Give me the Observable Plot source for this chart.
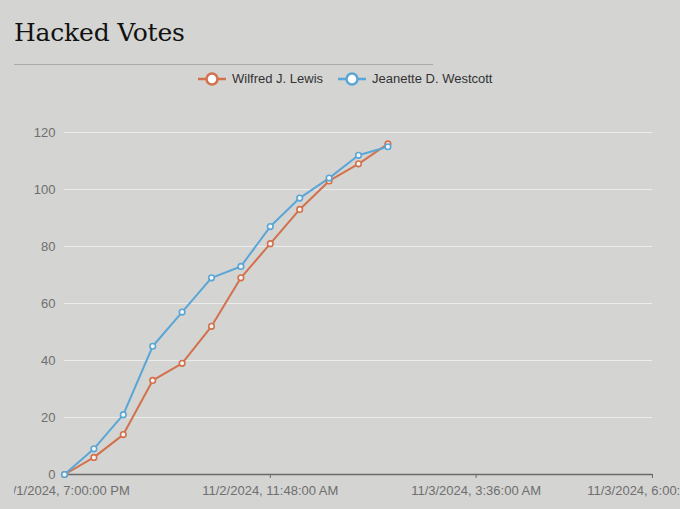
<!DOCTYPE html>
<html>
<head>
<meta charset="utf-8">
<script src="https://cdn.jsdelivr.net/npm/d3@7"></script>
<script src="https://cdn.jsdelivr.net/npm/@observablehq/plot@0.6"></script>
<style>
  html, body { margin: 0; padding: 0; background: #d4d4d2; }
  body { width: 680px; height: 509px; position: relative; overflow: hidden; font-family: "Liberation Sans", Arial, sans-serif; }
  #title { position: absolute; left: 14px; top: 16px; font-family: "DejaVu Serif", serif; font-size: 25px; line-height: 34px; color: #111; margin: 0; font-weight: normal; letter-spacing: -0.2px; }
  #rule { position: absolute; left: 14px; top: 64px; width: 419px; height: 0; border-top: 1.5px solid #a9a9a7; }
  #legend { position: absolute; left: 198px; top: 71px; display: flex; align-items: center; font-size: 13px; color: #333; }
  .item { display: flex; align-items: center; margin-right: 15px; }
  .item svg { margin-right: 6px; }
  #chart { position: absolute; left: 14px; top: 100px; }
</style>
</head>
<body>
<h1 id="title">Hacked Votes</h1>
<div id="rule"></div>
<div id="legend"></div>
<div id="chart"></div>
<script>
const times = [
  "2024-11-01T19:00:00-04:00", "2024-11-01T21:24:00-04:00", "2024-11-01T23:48:00-04:00",
  "2024-11-02T02:12:00-04:00", "2024-11-02T04:36:00-04:00", "2024-11-02T07:00:00-04:00",
  "2024-11-02T09:24:00-04:00", "2024-11-02T11:48:00-04:00", "2024-11-02T14:12:00-04:00",
  "2024-11-02T16:36:00-04:00", "2024-11-02T19:00:00-04:00", "2024-11-02T21:24:00-04:00"
];
const lewis    = [0, 6, 14, 33, 39, 52, 69, 81, 93, 103, 109, 116];
const westcott = [0, 9, 21, 45, 57, 69, 73, 87, 97, 104, 112, 115];
const seriesNames = ["Wilfred J. Lewis", "Jeanette D. Westcott"];
const seriesColors = ["#d2714c", "#5aa6d6"];
const xDomain = ["2024-11-01T19:00:00-04:00", "2024-11-03T18:00:00-05:00"];
const xTicks = ["2024-11-01T19:00:00-04:00", "2024-11-02T11:48:00-04:00", "2024-11-03T03:36:00-05:00", "2024-11-03T18:00:00-05:00"];
const xTickLabels = ["11/1/2024, 7:00:00 PM", "11/2/2024, 11:48:00 AM", "11/3/2024, 3:36:00 AM", "11/3/2024, 6:00:00 PM"];
const yTicks = [0, 20, 40, 60, 80, 100, 120];

const data = [];
times.forEach((t, i) => {
  data.push({time: new Date(t), votes: lewis[i], name: seriesNames[0]});
  data.push({time: new Date(t), votes: westcott[i], name: seriesNames[1]});
});
const tickDates = xTicks.map(t => new Date(t));
const labelMap = new Map(tickDates.map((d, i) => [+d, xTickLabels[i]]));

// legend
const legend = document.getElementById("legend");
seriesNames.forEach((n, i) => {
  const item = document.createElement("div");
  item.className = "item";
  item.innerHTML = `<svg width="28" height="14"><line x1="0" x2="28" y1="7" y2="7" stroke="${seriesColors[i]}" stroke-width="2.5"/><circle cx="14" cy="7" r="5.5" fill="#fff" stroke="${seriesColors[i]}" stroke-width="2.5"/></svg><span>${n}</span>`;
  legend.appendChild(item);
});

const chart = Plot.plot({
  width: 666,
  height: 409,
  marginLeft: 50,
  marginRight: 28,
  marginTop: 32,
  marginBottom: 35,
  style: {background: "transparent", fontFamily: "Liberation Sans, Arial, sans-serif", fontSize: "13px"},
  x: {type: "time", domain: xDomain.map(t => new Date(t))},
  y: {domain: [0, 120]},
  color: {domain: seriesNames, range: seriesColors},
  marks: [
    Plot.gridY(yTicks.filter(d => d > 0), {stroke: "#ececea", strokeOpacity: 1, strokeWidth: 1}),
    Plot.axisY(yTicks, {tickSize: 0, tickPadding: 9, fill: "#6f6f6f", label: null}),
    Plot.ruleY([0], {stroke: "#6a6a6a", strokeWidth: 1.5}),
    Plot.axisX(tickDates, {tickSize: 4, tickPadding: 7, stroke: "#6a6a6a", fill: "#6f6f6f", label: null, tickFormat: d => labelMap.get(+d)}),
    Plot.line(data, {x: "time", y: "votes", z: "name", stroke: "name", strokeWidth: 2}),
    Plot.dot(data, {x: "time", y: "votes", stroke: "name", fill: "#f4f4f4", r: 2.8, strokeWidth: 1.6})
  ]
});
document.getElementById("chart").appendChild(chart);
</script>
</body>
</html>
